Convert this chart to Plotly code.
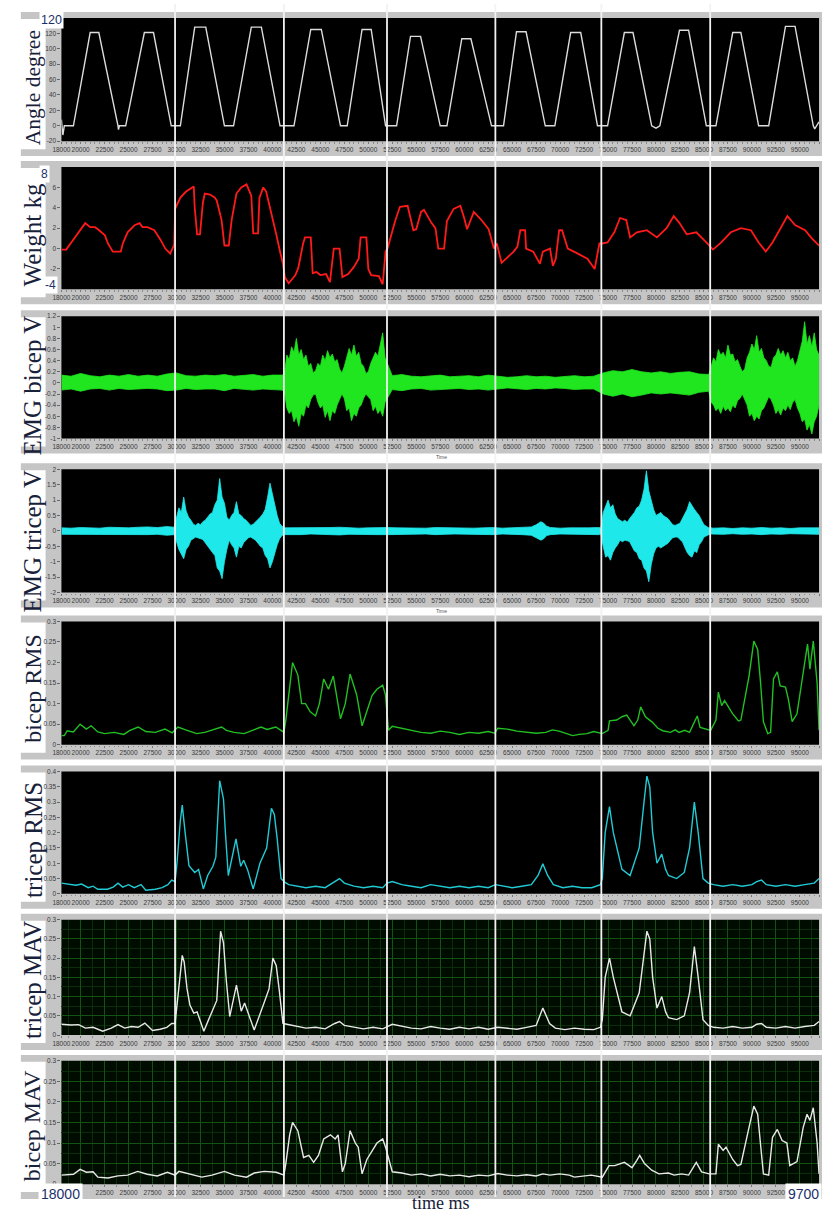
import plotly.graph_objects as go

W, H = 822, 1211

# ---------------- data (time in ms) ----------------
angle_t = [18000, 18150, 18300, 19250, 21000, 21900, 23900, 23950, 24050, 24700, 26650, 27600, 29450,
           30400, 31900, 33050, 35000, 35950, 37800, 38850, 40800,
           42250, 44000, 45100, 47100, 47800, 49350, 50300, 51800,
           52950, 54400, 55450, 57500, 58200, 59750, 60700, 62850,
           64100, 65450, 66450, 68450, 69450, 71100, 72150, 73900,
           74950, 76700, 77600, 79550, 80000, 80400, 82450, 83400, 85250,
           86250, 88000, 88850, 90700, 91750, 93500, 94500, 96400, 96550, 97000]
angle_v = [8, -12, 0, 0, 121, 121, 0, -5, 0, 0, 121, 121, 0,
           0, 128, 128, 0, 0, 128, 128, 0,
           0, 125, 125, 0, 0, 125, 125, 0,
           0, 116, 116, 0, 0, 113, 113, 0,
           0, 122, 122, 0, 0, 121, 121, 0,
           0, 121, 121, 0, -3, 0, 124, 124, 0,
           0, 121, 121, 0, 0, 129, 129, 0, -4, 5]

weight_t = [18000, 18500, 19030, 19960, 20480, 21000, 21500, 21800, 22540, 22850, 23360, 24190, 24400, 24900,
            25630, 26150, 26460, 26970, 27690, 28310, 28830, 29340, 29760, 29860,
            30400, 31000, 31800, 31900, 32150, 32450, 32750, 32950, 33500, 34000,
            34200, 34700, 35000, 35450, 35750, 36250, 36750, 37300, 37800, 38000,
            38500, 38650, 39050, 39350, 39850, 40400, 40700, 41100,
            41300, 41700, 42400, 42700, 43200, 43400, 44000, 44200, 44600, 45000,
            45600, 46000, 46400, 47000, 47300, 47900, 48500, 49000, 49200, 49800,
            50000, 50300, 51100, 51500, 51800,
            52000, 52800, 53300, 54100, 54500, 54700, 55000, 55500, 55800, 56600, 57000,
            57300, 57900, 58200, 58900, 59600, 60000, 60300, 61000, 61800, 62550, 63100,
            63400, 63900, 65150, 65550, 65850, 66350, 66450, 67200, 67900, 68200,
            68950, 69250, 69550, 69900, 70200, 70800, 71850, 72850, 73600, 74100,
            74400, 74950, 75650, 76250, 76900, 77300, 78000, 79050, 80100, 81100,
            81850, 82450, 83200, 84200, 85250,
            85950, 86800, 87800, 88850, 89900, 90700, 91450, 92150, 93000, 93700,
            94500, 95550, 96250, 97000]
weight_v = [-0.1, -0.1, 0.6, 1.9, 2.5, 2.1, 2.1, 1.9, 1.3, 0.5, -0.3, -0.3, 0.5, 1.6,
            2.3, 2.5, 2.1, 2.1, 1.8, 0.9, 0.0, -0.5, 0.4, 3.9,
            5.0, 5.6, 6.1, 4.0, 1.4, 1.4, 4.5, 5.4, 5.3, 5.0,
            4.7, 2.8, 0.3, 0.3, 2.8, 5.4, 6.0, 6.3, 5.2, 1.5,
            1.5, 5.0, 6.0, 5.6, 3.7, 1.4, 0.1, -1.5,
            -2.8, -3.4, -2.6, -1.9, 0.5, 1.1, 1.1, -2.4, -2.3, -2.6,
            -2.5, -3.3, 0.0, 0.0, -2.8, -2.5, -1.8, -1.0, 1.1, 1.1,
            -2.0, -2.6, -2.7, -3.5, -0.3,
            0.0, 2.7, 4.1, 4.2, 2.5, 1.8, 1.9, 3.6, 3.8, 2.5, 2.0,
            0.0, 0.0, 2.7, 3.9, 4.2, 3.0, 1.9, 3.6, 2.8, 1.9, 0.0,
            0.5, -1.4, -0.3, 0.2, 1.8, 1.8, 0.0, -0.3, -1.5, -0.3,
            0.0, -1.7, -1.0, 1.8, 1.8, 0.0, -0.5, -1.0, -2.0, 0.5,
            0.5, 0.6, 1.6, 3.0, 2.8, 1.1, 1.6, 1.8, 1.1, 2.0,
            3.2, 2.5, 1.4, 1.6, 0.6,
            -0.1, 0.6, 1.6, 2.0, 1.8, 0.6, -0.3, 0.6, 2.0, 3.2,
            2.3, 1.8, 1.0, 0.3]

# raw EMG, biceps: upper / lower envelope, piece by piece
emg_b_rest1_t = [18000, 19000, 20000, 21000, 22000, 23000, 24000, 25000, 26000, 27000, 28000, 29000,
                 30000, 31000, 32000, 33000, 34000, 35000, 36000, 37000, 38000, 39000, 40000, 41000]
emg_b_rest1_up = [0.14, 0.12, 0.17, 0.13, 0.11, 0.14, 0.12, 0.15, 0.12, 0.14, 0.12, 0.16,
                  0.18, 0.13, 0.12, 0.14, 0.13, 0.15, 0.12, 0.13, 0.15, 0.12, 0.14, 0.14]
emg_b_rest1_lo = [-0.13, -0.11, -0.15, -0.11, -0.1, -0.13, -0.1, -0.12, -0.11, -0.1, -0.11, -0.14,
                  -0.13, -0.1, -0.12, -0.11, -0.11, -0.14, -0.1, -0.11, -0.13, -0.11, -0.12, -0.13]
emg_b_burst1_t = [41250, 41500, 41750, 42000, 42250, 42500, 42750, 43000, 43250, 43500,
                  43750, 44000, 44250, 44500, 44750, 45000, 45250, 45500, 45750, 46000,
                  46250, 46500, 46750, 47000, 47250, 47500, 47750, 48000, 48250, 48500,
                  48750, 49000, 49250, 49500, 49750, 50000, 50250, 50500, 50750, 51000,
                  51250, 51500, 51750]
emg_b_burst1_up = [0.15, 0.5, 0.42, 0.65, 0.55, 0.8, 0.5, 0.6, 0.42, 0.5,
                   0.3, 0.35, 0.18, 0.22, 0.35, 0.3, 0.5, 0.4, 0.58, 0.45,
                   0.52, 0.38, 0.42, 0.25, 0.18, 0.3, 0.45, 0.62, 0.5, 0.68,
                   0.48, 0.55, 0.35, 0.3, 0.17, 0.2, 0.35, 0.45, 0.55, 0.48,
                   0.7, 0.9, 0.45]
emg_b_burst1_lo = [-0.15, -0.45, -0.55, -0.5, -0.7, -0.6, -0.78, -0.55, -0.6, -0.4,
                   -0.45, -0.3, -0.22, -0.2, -0.35, -0.45, -0.4, -0.62, -0.5, -0.68,
                   -0.5, -0.55, -0.4, -0.3, -0.2, -0.28, -0.5, -0.45, -0.68, -0.55,
                   -0.6, -0.45, -0.4, -0.28, -0.2, -0.25, -0.3, -0.5, -0.42, -0.55,
                   -0.48, -0.6, -0.35]
emg_b_rest2_t = [52500, 53500, 54500, 55500, 56500, 57500, 58500, 59500, 60500, 61500, 62500,
                 63500, 64500, 65500, 66500, 67500, 68500, 69500, 70500, 71500, 72500, 73500,
                 74500, 75500, 76500, 77500, 78500, 79500, 80500, 81500, 82500, 83500, 84500]
emg_b_rest2_up = [0.13, 0.15, 0.12, 0.11, 0.13, 0.14, 0.11, 0.12, 0.13, 0.11, 0.14,
                  0.12, 0.1, 0.11, 0.13, 0.11, 0.12, 0.1, 0.11, 0.13, 0.11, 0.12,
                  0.18, 0.22, 0.2, 0.24, 0.2, 0.18, 0.2, 0.17, 0.19, 0.2, 0.16]
emg_b_rest2_lo = [-0.12, -0.14, -0.11, -0.1, -0.13, -0.12, -0.11, -0.1, -0.12, -0.11, -0.13,
                  -0.11, -0.09, -0.11, -0.12, -0.1, -0.11, -0.09, -0.1, -0.12, -0.11, -0.11,
                  -0.2, -0.24, -0.2, -0.25, -0.22, -0.18, -0.2, -0.18, -0.2, -0.22, -0.17]
emg_b_burst2_t = [85500, 85750, 86000, 86250, 86500, 86750, 87000, 87250, 87500, 87750,
                  88000, 88250, 88500, 88750, 89000, 89250, 89500, 89750, 90000, 90250,
                  90500, 90750, 91000, 91250, 91500, 91750, 92000, 92250, 92500, 92750,
                  93000, 93250, 93500, 93750, 94000, 94250, 94500, 94750, 95000, 95250,
                  95500, 95750, 96000, 96250, 96500, 96750, 97000]
emg_b_burst2_up = [0.15, 0.3, 0.45, 0.38, 0.6, 0.5, 0.55, 0.45, 0.68, 0.5,
                   0.52, 0.38, 0.42, 0.3, 0.2, 0.25, 0.45, 0.55, 0.7, 0.6,
                   0.85, 0.55, 0.62, 0.45, 0.4, 0.3, 0.28, 0.45, 0.5, 0.62,
                   0.5, 0.58, 0.45, 0.55, 0.4, 0.45, 0.3, 0.4, 0.6, 0.75,
                   1.1, 0.7, 0.85, 0.65, 0.9, 0.6, 0.5]
emg_b_burst2_lo = [-0.15, -0.35, -0.4, -0.5, -0.45, -0.55, -0.42, -0.5, -0.45, -0.52,
                   -0.4, -0.45, -0.32, -0.28, -0.2, -0.3, -0.4, -0.6, -0.55, -0.68,
                   -0.6, -0.65, -0.5, -0.45, -0.35, -0.25, -0.3, -0.4, -0.55, -0.48,
                   -0.58, -0.45, -0.5, -0.4, -0.48, -0.35, -0.3, -0.45, -0.55, -0.7,
                   -0.65, -0.85, -0.75, -0.92, -0.7, -0.6, -0.4]

# raw EMG, triceps: upper / lower envelope, piece by piece
emg_t_rest1_t = [18000, 19000, 20000, 21000, 22000, 23000, 24000, 25000, 26000, 27000, 28000, 29000]
emg_t_rest1_up = [0.1, 0.09, 0.11, 0.1, 0.09, 0.12, 0.11, 0.1, 0.12, 0.13, 0.11, 0.14]
emg_t_rest1_lo = [-0.11, -0.1, -0.12, -0.1, -0.1, -0.12, -0.11, -0.1, -0.12, -0.12, -0.11, -0.14]
emg_t_burst1_t = [29750, 30000, 30250, 30500, 30750, 31000, 31250, 31500, 31750, 32000,
                  32250, 32500, 32750, 33000, 33250, 33500, 33750, 34000, 34250, 34500,
                  34750, 35000, 35250, 35500, 35750, 36000, 36250, 36500, 36750, 37000,
                  37250, 37500, 37750, 38000, 38250, 38500, 38750, 39000, 39250, 39500,
                  39750, 40000, 40250, 40500, 40750, 41000, 41250]
emg_t_burst1_up = [0.12, 0.45, 0.75, 0.6, 1.1, 0.65, 0.45, 0.35, 0.22, 0.18,
                   0.25, 0.2, 0.3, 0.35, 0.45, 0.55, 0.6, 0.85, 1.0, 1.7,
                   1.1, 0.9, 0.45, 0.35, 0.5, 0.6, 0.95, 0.55, 0.5, 0.4,
                   0.35, 0.25, 0.18, 0.22, 0.3, 0.35, 0.45, 0.55, 0.7, 1.1,
                   1.55, 1.2, 0.8, 0.5, 0.25, 0.15, 0.1]
emg_t_burst1_lo = [-0.12, -0.35, -0.6, -0.75, -0.9, -0.6, -0.5, -0.3, -0.25, -0.2,
                   -0.22, -0.25, -0.28, -0.4, -0.5, -0.6, -0.7, -0.8, -1.2, -1.3,
                   -1.55, -1.0, -0.6, -0.3, -0.45, -0.55, -0.85, -0.5, -0.55, -0.38,
                   -0.3, -0.22, -0.2, -0.25, -0.3, -0.4, -0.5, -0.55, -0.8, -0.9,
                   -1.2, -1.0, -0.75, -0.45, -0.25, -0.15, -0.12]
emg_t_rest2_t = [42000, 43000, 44000, 45000, 46000, 47000, 48000, 49000, 50000, 51000,
                 52000, 53000, 54000, 55000, 56000, 57000, 58000, 59000, 60000, 61000,
                 62000, 63000, 64000, 65000, 66000, 67000, 67500, 68000, 68300, 68600,
                 69000, 70000, 71000, 72000, 73000, 74000]
emg_t_rest2_up = [0.1, 0.11, 0.09, 0.1, 0.11, 0.12, 0.1, 0.09, 0.1, 0.11,
                  0.11, 0.1, 0.09, 0.1, 0.09, 0.11, 0.1, 0.09, 0.1, 0.09,
                  0.1, 0.11, 0.09, 0.1, 0.11, 0.13, 0.2, 0.3, 0.25, 0.15,
                  0.11, 0.09, 0.1, 0.09, 0.1, 0.11]
emg_t_rest2_lo = [-0.11, -0.12, -0.1, -0.11, -0.12, -0.13, -0.11, -0.1, -0.11, -0.12,
                  -0.12, -0.11, -0.1, -0.11, -0.1, -0.12, -0.11, -0.1, -0.11, -0.1,
                  -0.11, -0.12, -0.1, -0.11, -0.12, -0.14, -0.22, -0.3, -0.25, -0.15,
                  -0.12, -0.1, -0.11, -0.1, -0.11, -0.12]
emg_t_burst2_t = [74250, 74500, 74750, 75000, 75250, 75500, 75750, 76000, 76250, 76500,
                  76750, 77000, 77250, 77500, 77750, 78000, 78250, 78500, 78750, 79000,
                  79250, 79500, 79750, 80000, 80250, 80500, 80750, 81000, 81250, 81500,
                  81750, 82000, 82250, 82500, 82750, 83000, 83250, 83500, 83750, 84000,
                  84250, 84500, 84750, 85000, 85250, 85500, 85750]
emg_t_burst2_up = [0.1, 0.6, 0.8, 1.0, 0.75, 0.85, 0.55, 0.4, 0.35, 0.3,
                   0.35, 0.28, 0.4, 0.5, 0.6, 0.75, 0.8, 1.0, 1.35, 1.95,
                   1.3, 1.0, 0.7, 0.5, 0.55, 0.6, 0.5, 0.45, 0.4, 0.3,
                   0.2, 0.18, 0.22, 0.25, 0.4, 0.55, 0.7, 0.95, 0.8, 0.7,
                   0.6, 0.5, 0.35, 0.2, 0.15, 0.1, 0.1]
emg_t_burst2_lo = [-0.1, -0.5, -0.85, -0.8, -0.95, -0.7, -0.55, -0.45, -0.3, -0.35,
                   -0.3, -0.32, -0.35, -0.5, -0.65, -0.7, -0.9, -0.95, -1.2, -1.3,
                   -1.65, -1.1, -0.75, -0.55, -0.5, -0.55, -0.5, -0.45, -0.4, -0.3,
                   -0.22, -0.2, -0.2, -0.28, -0.35, -0.5, -0.7, -0.8, -0.85, -0.65,
                   -0.7, -0.45, -0.35, -0.2, -0.15, -0.12, -0.1]
emg_t_rest3_t = [86000, 87000, 88000, 89000, 90000, 91000, 92000, 93000, 94000, 95000, 96000, 97000]
emg_t_rest3_up = [0.09, 0.1, 0.08, 0.1, 0.09, 0.11, 0.09, 0.1, 0.08, 0.1, 0.09, 0.1]
emg_t_rest3_lo = [-0.1, -0.11, -0.09, -0.11, -0.1, -0.12, -0.1, -0.11, -0.09, -0.11, -0.1, -0.11]

emg_b_t = emg_b_rest1_t + emg_b_burst1_t + emg_b_rest2_t + emg_b_burst2_t
emg_b_up = emg_b_rest1_up + emg_b_burst1_up + emg_b_rest2_up + emg_b_burst2_up
emg_b_lo = emg_b_rest1_lo + emg_b_burst1_lo + emg_b_rest2_lo + emg_b_burst2_lo
emg_t_t = emg_t_rest1_t + emg_t_burst1_t + emg_t_rest2_t + emg_t_burst2_t + emg_t_rest3_t
emg_t_up = emg_t_rest1_up + emg_t_burst1_up + emg_t_rest2_up + emg_t_burst2_up + emg_t_rest3_up
emg_t_lo = emg_t_rest1_lo + emg_t_burst1_lo + emg_t_rest2_lo + emg_t_burst2_lo + emg_t_rest3_lo

# RMS, biceps
brms_t = [18000, 18300, 18600, 19250, 19950, 20600, 21100, 21800, 22500, 23500,
          24500, 25100, 26000, 26800, 27800, 28800, 29550, 30150, 31100, 32100,
          32950, 33800, 34700, 35200, 36000, 37050, 37900, 38800, 39450, 40350,
          40900, 41200,
          41400, 41800, 42100, 42650, 43050, 43450, 43950, 44500, 44900, 45350,
          45850, 46350, 47100, 47600, 48100, 48400, 48800, 49350, 49850, 50400,
          50900, 51500, 51800,
          52100, 52500, 53500, 54500, 55500, 56500, 57500, 58500, 59500, 60500,
          61500, 62500, 63200, 63500, 64500, 65500, 66500, 67500, 68500, 69200,
          69900, 70600, 71300, 72000, 72800, 73500, 74000,
          74400, 75000, 75150, 75900, 76450, 76950, 77300, 77700, 78100, 78400,
          78900, 79600, 80200, 80700, 81500, 82000, 82400, 83000, 83500, 84300,
          84600, 85200, 85700,
          86250, 86500, 86850, 87150, 88000, 88600, 88850, 89200, 89700, 90200,
          90600, 90900, 91200, 91650, 91950, 92250, 92650, 92950, 93500, 93800,
          94200, 94700, 95250, 95800, 96050, 96400, 96800, 97000]
brms_v = [0.022, 0.022, 0.034, 0.031, 0.05, 0.038, 0.046, 0.031, 0.027, 0.03,
          0.025, 0.034, 0.043, 0.032, 0.03, 0.038, 0.029, 0.043, 0.035, 0.027,
          0.03, 0.037, 0.043, 0.035, 0.03, 0.027, 0.035, 0.043, 0.037, 0.043,
          0.035, 0.03,
          0.06, 0.15, 0.2, 0.17, 0.1, 0.1, 0.08, 0.07, 0.1, 0.16,
          0.135, 0.167, 0.063, 0.1, 0.172, 0.15, 0.12, 0.046, 0.08, 0.12,
          0.135, 0.145, 0.12,
          0.035, 0.045, 0.04, 0.035, 0.03, 0.028, 0.033, 0.03, 0.025, 0.03,
          0.028, 0.032, 0.028, 0.04, 0.038, 0.033, 0.03, 0.028, 0.03, 0.036,
          0.033, 0.027, 0.022, 0.025, 0.027, 0.032, 0.03,
          0.027, 0.035, 0.058, 0.06, 0.068, 0.072, 0.06, 0.046, 0.06, 0.092,
          0.068, 0.055, 0.04, 0.034, 0.03, 0.036, 0.03, 0.035, 0.03, 0.07,
          0.042, 0.038, 0.035,
          0.06, 0.128, 0.095, 0.107, 0.075, 0.058, 0.06, 0.107, 0.167, 0.252,
          0.232, 0.152, 0.056, 0.027, 0.03, 0.16, 0.177, 0.143, 0.14, 0.111,
          0.056, 0.075, 0.16, 0.245, 0.184, 0.252, 0.15, 0.035]

# RMS, triceps
trms_t = [18000, 18800, 19500, 20100, 20800, 21300, 21800, 22800, 23400, 23900,
          24400, 25000, 25600, 26300, 26800, 27800, 28500, 29100, 29500,
          29850, 30050, 30400, 30600, 30900, 31300, 31900, 32300, 32800, 33250,
          33800, 34100, 34500, 34900, 35100, 35400, 36200, 36700, 37000, 37400,
          38000, 38700, 39400, 39900, 40200, 40500, 40900,
          41200, 41700, 42500, 43500, 44500, 45500, 46500, 47000, 47500, 48500,
          49500, 50500, 51500, 51950, 52500, 53500, 54500, 55500, 56500, 57500,
          58500, 59500, 60500, 61500, 62500, 63250, 64000, 65000, 66000, 67000,
          67700, 68200, 68700, 69300, 70300, 71300, 72300, 73300, 74200,
          74400, 74700, 75150, 75550, 76450, 77300, 78250, 78750, 79050, 79350,
          79650, 80100, 80600, 81000, 81300, 82150, 82950, 83500, 84000, 84400,
          84900, 85450,
          86000, 87000, 88000, 89000, 90000, 90500, 91000, 91500, 92500, 93500,
          94500, 95500, 96500, 97000]
trms_v = [0.035, 0.03, 0.028, 0.032, 0.02, 0.025, 0.015, 0.015, 0.022, 0.035,
          0.022, 0.03, 0.02, 0.03, 0.012, 0.015, 0.02, 0.03, 0.045,
          0.04, 0.1, 0.24, 0.29, 0.2, 0.092, 0.07, 0.08, 0.016, 0.06,
          0.09, 0.12, 0.37, 0.31, 0.2, 0.06, 0.18, 0.09, 0.11, 0.08,
          0.016, 0.1, 0.15, 0.28, 0.26, 0.18, 0.05,
          0.04, 0.03, 0.025, 0.02, 0.025, 0.02, 0.04, 0.05, 0.035, 0.025,
          0.02, 0.025, 0.02, 0.035, 0.04, 0.03, 0.025, 0.02, 0.03, 0.025,
          0.02, 0.025, 0.02, 0.025, 0.02, 0.03, 0.025, 0.02, 0.025, 0.03,
          0.06, 0.098, 0.06, 0.03, 0.02, 0.025, 0.02, 0.02, 0.03,
          0.05, 0.2, 0.285, 0.2, 0.08, 0.06, 0.15, 0.3, 0.385, 0.35,
          0.2, 0.1, 0.13, 0.08, 0.06, 0.05, 0.07, 0.15, 0.3, 0.2,
          0.05, 0.035,
          0.03, 0.025, 0.03, 0.025, 0.03, 0.04, 0.045, 0.03, 0.025, 0.03,
          0.025, 0.03, 0.035, 0.05]

# MAV, triceps
tmav_t = [18000, 19000, 19800, 20500, 21300, 22300, 23200, 23900, 24600, 25300,
          26000, 26700, 27500, 28300, 29000, 29500,
          29850, 30050, 30400, 30600, 30800, 31100, 31400, 31800, 32150, 32450,
          32850, 33350, 33900, 34200, 34600, 34900, 35200, 35550, 36250, 36750,
          37100, 37500, 38100, 39050, 39650, 40050, 40400, 40700, 41100,
          41500, 42500, 43500, 44500, 45500, 46500, 47000, 47500, 48500, 49500,
          50500, 51500, 52500, 53500, 54500, 55500, 56500, 57500, 58500, 59500,
          60500, 61500, 62500, 63500, 64500, 65500, 66500, 67500, 68200, 68900,
          69500, 70500, 71500, 72500, 73500, 74200,
          74400, 74700, 75150, 75550, 76450, 77300, 78250, 78750, 79050, 79350,
          79650, 80100, 80600, 81000, 81300, 82150, 82950, 83500, 84000, 84400,
          84900, 85450,
          86000, 87000, 88000, 89000, 90000, 90500, 91000, 91500, 92500, 93500,
          94500, 95500, 96500, 97000]
tmav_v = [0.028, 0.026, 0.027, 0.018, 0.02, 0.01, 0.018, 0.027, 0.018, 0.022,
          0.02, 0.031, 0.012, 0.015, 0.02, 0.03,
          0.03, 0.08, 0.17, 0.207, 0.19, 0.12, 0.078, 0.057, 0.06, 0.04,
          0.01, 0.04, 0.07, 0.09, 0.27, 0.24, 0.14, 0.048, 0.13, 0.062,
          0.083, 0.056, 0.013, 0.078, 0.12, 0.2, 0.18, 0.12, 0.03,
          0.028, 0.022, 0.018, 0.02, 0.016, 0.03, 0.035, 0.025, 0.02, 0.016,
          0.02, 0.016, 0.028, 0.022, 0.018, 0.016, 0.022, 0.018, 0.015, 0.02,
          0.016, 0.02, 0.015, 0.02, 0.018, 0.015, 0.02, 0.025, 0.07, 0.03,
          0.018, 0.014, 0.018, 0.015, 0.014, 0.02,
          0.04, 0.15, 0.2, 0.15, 0.06, 0.05, 0.11, 0.21, 0.27, 0.25,
          0.15, 0.07, 0.1, 0.06, 0.045, 0.04, 0.05, 0.11, 0.23, 0.15,
          0.04, 0.025,
          0.02, 0.018, 0.022, 0.018, 0.02, 0.028, 0.03, 0.02, 0.018, 0.022,
          0.018, 0.022, 0.025, 0.035]

# MAV, biceps
bmav_t = [18000, 19250, 19950, 20600, 21300, 21800, 22850, 23900, 24900, 25950,
          26950, 28000, 29050, 29850, 30250, 31600, 32650, 33700, 35000, 36050,
          37300, 38100, 39150, 40400, 41200,
          41400, 41800, 42100, 42650, 43250, 43800, 44300, 44800, 45350, 46050,
          46550, 46850, 47300, 47600, 48100, 48650, 48950, 49350, 49850, 50400,
          50900, 51500, 51800,
          52500, 53500, 54500, 55500, 56500, 57500, 58500, 59500, 60500, 61500,
          62500, 63500, 64500, 65500, 66500, 67500, 68200, 68950, 69950, 70950,
          71500, 73250, 74400,
          75100, 75700, 76700, 77200, 77500, 78000, 78300, 78800, 79550, 80300,
          81300, 81900, 82650, 83400, 84200, 84750, 85550,
          86250, 86500, 87000, 87300, 88000, 88500, 88850, 89200, 89700, 90200,
          90600, 90900, 91200, 91750, 92150, 92650, 93150, 93650, 93950, 94700,
          95350, 95750, 96050, 96400, 96800, 97000]
bmav_v = [0.022, 0.024, 0.036, 0.029, 0.03, 0.017, 0.015, 0.02, 0.022, 0.031,
          0.024, 0.02, 0.029, 0.022, 0.031, 0.024, 0.017, 0.022, 0.031, 0.022,
          0.017, 0.027, 0.031, 0.029, 0.022,
          0.05, 0.12, 0.15, 0.13, 0.065, 0.07, 0.053, 0.07, 0.11, 0.12,
          0.11, 0.12, 0.03, 0.05, 0.13, 0.1, 0.09, 0.025, 0.06, 0.08,
          0.1, 0.11, 0.09,
          0.03, 0.027, 0.022, 0.025, 0.02, 0.024, 0.02, 0.022, 0.018, 0.022,
          0.02, 0.026, 0.022, 0.02, 0.023, 0.02, 0.025, 0.022, 0.025, 0.022,
          0.017, 0.022, 0.017,
          0.045, 0.045, 0.053, 0.045, 0.04, 0.058, 0.07, 0.05, 0.034, 0.025,
          0.027, 0.022, 0.025, 0.022, 0.053, 0.03, 0.025,
          0.025, 0.097, 0.082, 0.09, 0.06, 0.045, 0.048, 0.082, 0.138, 0.19,
          0.17, 0.097, 0.025, 0.022, 0.114, 0.133, 0.106, 0.1, 0.045, 0.055,
          0.138, 0.17, 0.155, 0.186, 0.1, 0.025]

# boundaries between the joined recordings (ms)
seam_t = [29850, 41200, 51950, 63250, 74300, 85650]

x_tickvals = [18000, 20000, 22500, 25000, 27500, 30000, 32500, 35000, 37500, 40000, 42500,
              45000, 47500, 50000, 52500, 55000, 57500, 60000, 62500, 65000, 67500, 70000,
              72500, 75000, 77500, 80000, 82500, 85000, 87500, 90000, 92500, 95000, 97000]
x_ticktext = [str(v) for v in x_tickvals]
# bottom row: the end labels sit under the boxed start / end values
x_ticktext_last = ["" if v in (18000, 20000, 95000, 97000) else str(v) for v in x_tickvals]

# ---------------- layout geometry (pixels) ----------------
X0, X1 = 53, 819
panels = [  # top, bottom of each plotting area
    (14, 138), (164, 287), (314, 437), (468, 592),
    (621, 745), (772, 895), (921, 1037), (1063, 1187)]

def fx(p):
    return p / W

def fy(p):
    return 1 - p / H

y_specs = [
    dict(range=[-20, 140], tickvals=[-20, 0, 20, 40, 60, 80, 100, 120],
         ticktext=["-20", "0", "20", "40", "60", "80", "100", "120"]),
    dict(range=[-4, 8], tickvals=[-2, 0, 2, 4, 6], ticktext=["-2", "0", "2", "4", "6"]),
    dict(range=[-1, 1.2], tickvals=[-1, -0.8, -0.6, -0.4, -0.2, 0, 0.2, 0.4, 0.6, 0.8, 1, 1.2],
         ticktext=["-1", "-0.8", "-0.6", "-0.4", "-0.2", "0", "0.2", "0.4", "0.6", "0.8", "1", "1.2"]),
    dict(range=[-2, 2], tickvals=[-2, -1.5, -1, -0.5, 0, 0.5, 1, 1.5, 2],
         ticktext=["-2", "-1.5", "-1", "-0.5", "0", "0.5", "1", "1.5", "2"]),
    dict(range=[0, 0.3], tickvals=[0, 0.05, 0.1, 0.15, 0.2, 0.25, 0.3],
         ticktext=["0", "0.05", "0.1", "0.15", "0.2", "0.25", "0.3"]),
    dict(range=[0, 0.4], tickvals=[0, 0.05, 0.1, 0.15, 0.2, 0.25, 0.3, 0.35, 0.4],
         ticktext=["0", "0.05", "0.1", "0.15", "0.2", "0.25", "0.3", "0.35", "0.4"]),
    dict(range=[0, 0.3], tickvals=[0, 0.05, 0.1, 0.15, 0.2, 0.25, 0.3],
         ticktext=["0", "0.05", "0.1", "0.15", "0.2", "0.25", "0.3"]),
    dict(range=[0, 0.3], tickvals=[0, 0.05, 0.1, 0.15, 0.2, 0.25, 0.3],
         ticktext=["0", "0.05", "0.1", "0.15", "0.2", "0.25", "0.3"]),
]

titles = [("Angle degree", 84, 21.5), ("Weight kg", 232, 25), ("EMG bicep V", 384, 25),
          ("EMG tricep V", 540, 25), ("bicep RMS", 688, 24), ("tricep RMS", 841, 25),
          ("tricep MAV", 982, 25), ("bicep MAV", 1128, 24)]

tick_font = dict(family="Liberation Sans", size=6.5, color="#3a3a3a")
serif = "Liberation Serif"
ink = "#18213a"

fig = go.Figure()

def ax(i):
    return ("x" if i == 1 else f"x{i}"), ("y" if i == 1 else f"y{i}")

# angle
fig.add_trace(go.Scatter(x=angle_t, y=angle_v, xaxis=ax(1)[0], yaxis=ax(1)[1], mode="lines",
                         line=dict(color="#dcdcdc", width=1.4)))
# weight
fig.add_trace(go.Scatter(x=weight_t, y=weight_v, xaxis=ax(2)[0], yaxis=ax(2)[1], mode="lines",
                         line=dict(color="#ff1a1a", width=1.8)))
# raw EMG bands
for i, (t, up, lo, col) in ((3, (emg_b_t, emg_b_up, emg_b_lo, "#1fe61f")),
                            (4, (emg_t_t, emg_t_up, emg_t_lo, "#1fe8ea"))):
    fig.add_trace(go.Scatter(x=t + t[::-1], y=up + lo[::-1], xaxis=ax(i)[0], yaxis=ax(i)[1],
                             mode="lines", fill="toself", fillcolor=col,
                             line=dict(color=col, width=0.8)))
# processed features
for i, (t, v, col) in ((5, (brms_t, brms_v, "#22c022")), (6, (trms_t, trms_v, "#22cad4")),
                       (7, (tmav_t, tmav_v, "#e8e8e8")), (8, (bmav_t, bmav_v, "#e8e8e8"))):
    fig.add_trace(go.Scatter(x=t, y=v, xaxis=ax(i)[0], yaxis=ax(i)[1], mode="lines",
                             line=dict(color=col, width=1.4)))

layout = dict(width=W, height=H, margin=dict(l=0, r=0, t=0, b=0),
              paper_bgcolor="white", plot_bgcolor="rgba(0,0,0,0)", showlegend=False)

shapes = []
annotations = []
for i, ((top, bot), ys) in enumerate(zip(panels, y_specs), start=1):
    grid = i >= 7
    xname = "xaxis" if i == 1 else f"xaxis{i}"
    yname = "yaxis" if i == 1 else f"yaxis{i}"
    layout[xname] = dict(
        domain=[fx(X0), fx(X1)], range=[18000, 97000], anchor=ax(i)[1],
        tickmode="array", tickvals=x_tickvals,
        ticktext=x_ticktext_last if i == 8 else x_ticktext, tickfont=tick_font,
        ticks="outside", ticklen=2, tickcolor="#777", tickangle=0,
        showline=False, zeroline=False, showgrid=grid,
        gridcolor="#145214", gridwidth=1,
        minor=dict(tickmode="linear", tick0=20000, dtick=1250 if grid else 500,
                   ticks="outside", ticklen=1.5, tickcolor="#8a8a8a",
                   showgrid=grid, gridcolor="#0a2c0a", gridwidth=1),
        fixedrange=True)
    layout[yname] = dict(
        domain=[fy(bot), fy(top)], range=ys["range"], anchor=ax(i)[0],
        tickmode="array", tickvals=ys["tickvals"], ticktext=ys["ticktext"], tickfont=tick_font,
        ticks="outside", ticklen=3, tickcolor="#666",
        showline=False, zeroline=False, showgrid=grid, gridcolor="#145214", gridwidth=1,
        fixedrange=True)
    if grid:
        layout[yname]["minor"] = dict(tickmode="linear", tick0=0, dtick=0.025, showgrid=True,
                                      gridcolor="#0a2c0a", gridwidth=1)

    # grey instrument frame around the plotting area
    shapes.append(dict(type="rect", xref="paper", yref="paper", layer="below",
                       x0=fx(12), x1=fx(W), y0=fy(bot + 15), y1=fy(top - 6),
                       fillcolor="#c5c5c5", line=dict(width=0)))
    # plotting area
    shapes.append(dict(type="rect", xref="paper", yref="paper", layer="below",
                       x0=fx(X0), x1=fx(X1), y0=fy(bot), y1=fy(top),
                       fillcolor="#010c01" if grid else "#000000", line=dict(width=0)))
    # white strip behind the axis title
    shapes.append(dict(type="rect", xref="paper", yref="paper", layer="below",
                       x0=fx(11), x1=fx(37), y0=fy(bot + 8), y1=fy(top + 1),
                       fillcolor="white", line=dict(width=0)))

    text, yc, size = titles[i - 1]
    annotations.append(dict(text=text, x=fx(24), y=fy(yc), textangle=-90,
                            font=dict(family=serif, size=size, color=ink)))

# seams between the joined recordings
for t in seam_t:
    shapes.append(dict(type="line", xref="x", yref="paper", layer="above",
                       x0=t, x1=t, y0=fy(1200), y1=1,
                       line=dict(color="#f2f2f2", width=1.8)))

num_font = dict(family="Liberation Sans", color="#1a2f6a")
annotations += [
    dict(text="120", x=fx(43), y=fy(16), font=dict(size=12.5, **num_font), bgcolor="white",
         borderpad=1),
    dict(text="8", x=fx(36), y=fy(171), font=dict(size=12, **num_font), bgcolor="white",
         borderpad=1),
    dict(text="-4", x=fx(42), y=fy(283), font=dict(size=12, **num_font), bgcolor="white",
         borderpad=1),
    dict(text="18000", x=fx(52), y=fy(1197), font=dict(size=14, **num_font), bgcolor="white",
         borderpad=2),
    dict(text="9700", x=fx(822), y=fy(1197), xanchor="right", font=dict(size=14, **num_font),
         bgcolor="white", borderpad=2),
    dict(text="time ms", x=fx(437), y=fy(1194), yanchor="top",
         font=dict(family=serif, size=18, color=ink)),
    dict(text="Time", x=fx(437), y=fy(456), font=dict(family="Liberation Sans", size=5,
                                                        color="#555")),
    dict(text="Time", x=fx(437), y=fy(611), font=dict(family="Liberation Sans", size=5,
                                                        color="#555")),
]
for a in annotations:
    a.setdefault("xref", "paper")
    a.setdefault("yref", "paper")
    a.setdefault("showarrow", False)
    a.setdefault("xanchor", "center")
    a.setdefault("yanchor", "middle")

layout["shapes"] = shapes
layout["annotations"] = annotations
fig.update_layout(**layout)

# page without body margin so the figure fills the window exactly
fig.write_html("out.html",
               post_script="document.body.style.margin='0';document.body.style.overflow='hidden';")
